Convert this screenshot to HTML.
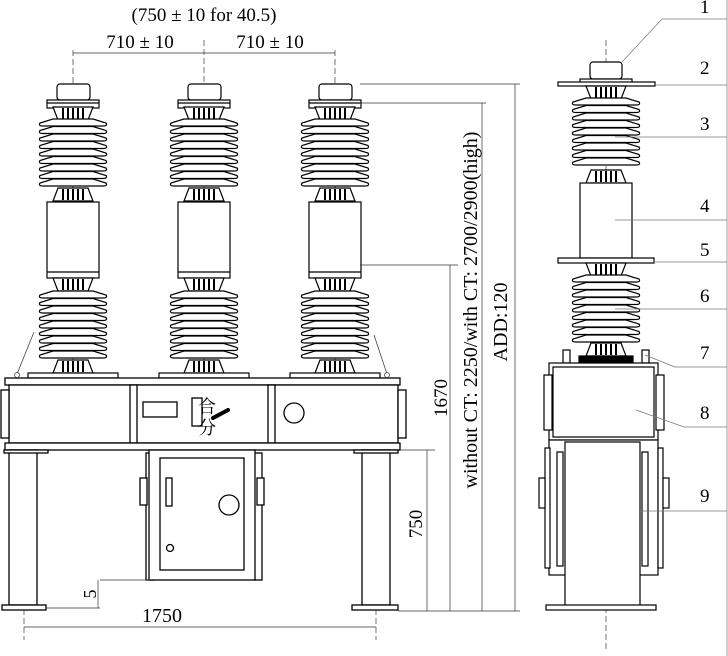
<!DOCTYPE html>
<html><head><meta charset="utf-8"><style>
html,body{margin:0;padding:0;background:#fff;}
svg{display:block;}
text{font-family:"Liberation Serif","Noto Serif CJK SC",serif;fill:#000;}
</style></head><body>
<svg width="728" height="656" viewBox="0 0 728 656" xmlns="http://www.w3.org/2000/svg">
<defs>
<g id="shed"><path d="M-20,0 L20,0 L33,4 Q35,7 30,7 L-30,7 Q-35,7 -33,4 Z" fill="#fff" stroke="#000" stroke-width="1.2"/></g>
<g id="sheds">
<use href="#shed" y="0"/><use href="#shed" y="7.5"/><use href="#shed" y="15"/><use href="#shed" y="22.5"/><use href="#shed" y="30"/><use href="#shed" y="37.5"/><use href="#shed" y="45"/><use href="#shed" y="52.5"/><use href="#shed" y="60"/>
</g>
<g id="neck"><path d="M-15,0 L15,0 L20,13 L-20,13 Z" fill="#fff" stroke="#000" stroke-width="1.2"/>
<path d="M-10,1 V12 M-5,1 V12 M0,1 V12 M5,1 V12 M10,1 V12" stroke="#000" stroke-width="2"/></g>
<g id="neckd"><path d="M-20,0 L20,0 L15,13 L-15,13 Z" fill="#fff" stroke="#000" stroke-width="1.2"/>
<path d="M-10,1 V12 M-5,1 V12 M0,1 V12 M5,1 V12 M10,1 V12" stroke="#000" stroke-width="2"/></g>
<g id="pole" stroke="#000" fill="#fff" stroke-width="1.2">
<rect x="-16" y="84" width="33" height="16" rx="3"/>
<rect x="-26" y="100" width="52" height="8"/>
<line x1="-26" y1="103" x2="26" y2="103"/>
<use href="#neckd" y="107"/>
<use href="#sheds" y="119"/>
<use href="#neck" y="188"/>
<rect x="-26" y="202" width="52" height="76"/>
<line x1="-26" y1="272" x2="26" y2="272"/>
<use href="#neckd" y="278"/>
<use href="#sheds" y="291"/>
<use href="#neck" y="360"/>
<rect x="-45" y="373" width="90" height="5"/>
</g>
</defs>

<g stroke="#555" stroke-width="0.8" stroke-dasharray="6,3" fill="none">
<line x1="73" y1="50" x2="73" y2="440"/><line x1="204" y1="40" x2="204" y2="440"/><line x1="335" y1="50" x2="335" y2="440"/>
<line x1="24" y1="420" x2="24" y2="640"/><line x1="376" y1="420" x2="376" y2="640"/>
<line x1="606" y1="40" x2="606" y2="650"/>
</g>

<use href="#pole" x="73"/><use href="#pole" x="204"/><use href="#pole" x="335"/>

<g stroke="#000" fill="#fff" stroke-width="1.3">
<rect x="5" y="378" width="395" height="7"/>
<rect x="9" y="385" width="389" height="58"/>
<rect x="1" y="390" width="8" height="48"/><rect x="398" y="390" width="8" height="48"/>
<rect x="130" y="385" width="7" height="58"/><rect x="268" y="385" width="7" height="58"/>
<rect x="5" y="443" width="395" height="7"/>
<rect x="143" y="402" width="34" height="15"/>
<rect x="192" y="398" width="10" height="28"/>
<circle cx="294" cy="413" r="10"/>
<rect x="9" y="450" width="28" height="155"/><rect x="2" y="605" width="44" height="5"/>
<rect x="362" y="450" width="28" height="155"/><rect x="352" y="605" width="46" height="5"/>
<rect x="4" y="450" width="44" height="3"/><rect x="354" y="450" width="44" height="3"/>
<rect x="146" y="453" width="8" height="127"/><rect x="254" y="453" width="8" height="127"/>
<rect x="149" y="450" width="106" height="130"/>
<rect x="160" y="458" width="84" height="112"/>
<rect x="140" y="478" width="7" height="27"/><rect x="257" y="478" width="7" height="27"/>
<rect x="166" y="478" width="6" height="28"/>
<circle cx="229" cy="505" r="10"/>
<circle cx="170" cy="548" r="3.5"/>
</g>
<line x1="213" y1="418" x2="228" y2="410" stroke="#000" stroke-width="4" stroke-linecap="round"/>
<text x="198" y="413" font-size="18">合</text>
<text x="198" y="434" font-size="18">分</text>
<g stroke="#444" stroke-width="0.8" fill="#fff">
<line x1="17" y1="374" x2="34" y2="332"/><circle cx="17" cy="375" r="2.5"/>
<line x1="387" y1="374" x2="374" y2="335"/><circle cx="387" cy="375" r="2.5"/>
</g>

<g stroke="#333" stroke-width="0.7" fill="none">
<line x1="73" y1="53" x2="335" y2="53"/>
<line x1="360" y1="84" x2="520" y2="84"/>
<line x1="360" y1="103" x2="486" y2="103"/>
<line x1="360" y1="265" x2="458" y2="265"/>
<line x1="400" y1="450" x2="435" y2="450"/>
<line x1="398" y1="611" x2="520" y2="611"/>
<line x1="515" y1="84" x2="515" y2="611"/>
<line x1="482" y1="103" x2="482" y2="611"/>
<line x1="450" y1="265" x2="450" y2="611"/>
<line x1="427" y1="450" x2="427" y2="611"/>
<line x1="100" y1="580" x2="150" y2="580"/>
<line x1="46" y1="608" x2="100" y2="608"/>
<line x1="98" y1="580" x2="98" y2="608"/>
<line x1="24" y1="627" x2="376" y2="627"/>
</g>
<text x="204" y="21" font-size="19" text-anchor="middle">(750 ± 10 for 40.5)</text>
<text x="140" y="48" font-size="19" text-anchor="middle">710 ± 10</text>
<text x="270" y="48" font-size="19" text-anchor="middle">710 ± 10</text>
<text x="162" y="622" font-size="20" text-anchor="middle">1750</text>
<text transform="translate(96,594) rotate(-90)" font-size="18" text-anchor="middle">5</text>
<text transform="translate(422,524) rotate(-90)" font-size="19" text-anchor="middle">750</text>
<text transform="translate(447,398) rotate(-90)" font-size="19" text-anchor="middle">1670</text>
<text transform="translate(477,310) rotate(-90)" font-size="20" text-anchor="middle">without CT: 2250/with  CT: 2700/2900(high)</text>
<text transform="translate(507,322) rotate(-90)" font-size="20" text-anchor="middle">ADD:120</text>

<g stroke="#000" fill="#fff" stroke-width="1.2" transform="translate(606,0)">
<rect x="-16" y="62" width="32" height="17" rx="3"/>
<rect x="-26" y="79" width="52" height="4"/>
<rect x="-48" y="82" width="97" height="4"/>
<use href="#neckd" y="86"/>
<use href="#sheds" y="98"/>
<use href="#neck" y="170"/>
<rect x="-26" y="183" width="52" height="75"/>
<rect x="-48" y="258" width="96" height="5"/>
<use href="#neckd" y="263"/>
<use href="#sheds" y="275"/>
<use href="#neck" y="343"/>
<rect x="-27" y="356" width="54" height="6" fill="#000"/>
<rect x="-43" y="350" width="7" height="13"/><rect x="36" y="350" width="7" height="13"/>
<rect x="-57" y="363" width="109" height="77"/>
<rect x="-53" y="367" width="101" height="70"/>
<rect x="-62" y="375" width="8" height="55"/><rect x="50" y="375" width="8" height="55"/>
<rect x="-57" y="440" width="109" height="135"/>
<rect x="-41" y="442" width="75" height="166"/>
<rect x="-49" y="452" width="6" height="114"/><rect x="36" y="452" width="6" height="114"/>
<rect x="-61" y="448" width="5" height="120"/><rect x="52" y="448" width="5" height="120"/>
<rect x="-67" y="478" width="6" height="30"/><rect x="57" y="478" width="6" height="30"/>
<rect x="-60" y="605" width="110" height="5"/>
</g>
<g stroke="#777" stroke-width="0.7" fill="none">
<line x1="727" y1="0" x2="727" y2="656"/>
<polyline points="622,62 662,19 727,19"/>
<line x1="655" y1="85" x2="727" y2="85"/>
<line x1="615" y1="137" x2="727" y2="137"/>
<line x1="615" y1="220" x2="727" y2="220"/>
<line x1="653" y1="262" x2="727" y2="262"/>
<line x1="615" y1="309" x2="727" y2="309"/>
<polyline points="645,355 675,367 727,367"/>
<polyline points="636,410 684,427 727,427"/>
<line x1="640" y1="511" x2="727" y2="511"/>
</g>
<g font-size="19">
<text x="700" y="13">1</text><text x="700" y="74">2</text><text x="700" y="130">3</text>
<text x="700" y="212">4</text><text x="700" y="256">5</text><text x="700" y="302">6</text>
<text x="700" y="359">7</text><text x="700" y="419">8</text><text x="700" y="502">9</text>
</g>
</svg>
</body></html>
